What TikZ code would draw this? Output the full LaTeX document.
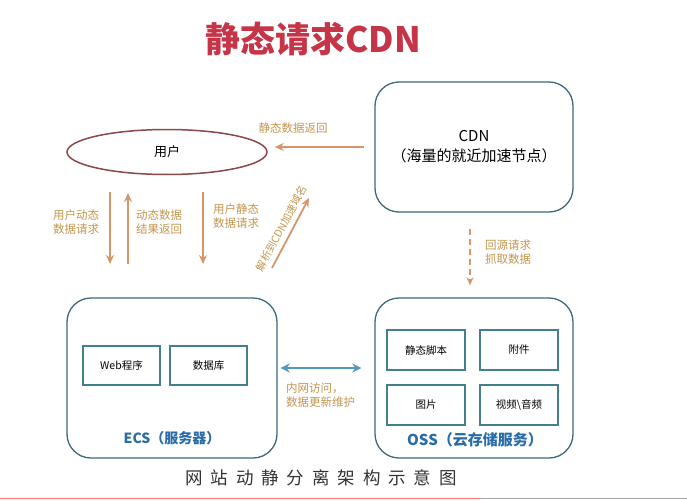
\documentclass[tikz,border=0pt]{standalone}
\usepackage{fontspec}
\setmainfont{Noto Sans CJK SC}
\usepackage{tikz}
\usetikzlibrary{arrows.meta, shapes.geometric}

\definecolor{titolo}{RGB}{198,52,72}
\definecolor{arancio}{RGB}{214,150,108}
\definecolor{oro}{RGB}{196,150,80}
\definecolor{bordo}{RGB}{62,104,124}
\definecolor{cellac}{RGB}{66,128,140}
\definecolor{blu}{RGB}{40,108,168}
\definecolor{azzurro}{RGB}{84,152,192}
\definecolor{ellc}{RGB}{140,72,72}

\begin{document}
\begin{tikzpicture}[x=1pt,y=-1pt,
    freccia/.style={-{Stealth[length=9pt,width=8pt]},line width=1.8pt,draw=arancio},
    etich/.style={font=\fontsize{11.5}{13.5}\selectfont,text=oro,align=center,inner sep=1pt},
    scatola/.style={draw=bordo,line width=1.3pt,rounded corners=24pt,minimum width=198pt},
    cella/.style={draw=cellac,line width=1.1pt,minimum width=78pt,minimum height=40pt,
        font=\fontsize{10.5}{12}\selectfont}]
    % sfondo
    \useasboundingbox (0,0) rectangle (687,500);
    \fill[white] (0,0) rectangle (687,500);

    % titolo
    \node[text=titolo,font=\fontsize{35}{38}\selectfont\bfseries] (title) at (313,39) {静态请求CDN};

    % utente
    \node[ellipse,draw=ellc,line width=1.5pt,minimum width=200pt,minimum height=45pt,
        font=\fontsize{13}{15}\selectfont] (user) at (167,152) {用户};

    % cdn
    \node[scatola,minimum height=130pt,align=center,font=\fontsize{15}{20}\selectfont] (cdn) at (474,147)
        {CDN\\（海量的就近加速节点）};

    % ecs
    \node[scatola,minimum width=210pt,minimum height=160pt] (ecs) at (172,378) {};
    \node[cella,minimum width=77pt,minimum height=39pt] (web) at (121.5,365.5) {Web程序};
    \node[cella,minimum width=77pt,minimum height=39pt] (db) at (208.5,365.5) {数据库};
    \node[text=blu,font=\fontsize{14}{16}\selectfont\bfseries] (ecslab) at (172,438) {ECS（服务器）};

    % oss
    \node[scatola,minimum height=160pt] (oss) at (474,378) {};
    \node[cella] (script) at (426,350) {静态脚本};
    \node[cella] (attach) at (519,350) {附件};
    \node[cella] (pic) at (426,405) {图片};
    \node[cella] (video) at (519,405) {视频\textbackslash 音频};
    \node[text=blu,font=\fontsize{15}{17}\selectfont\bfseries] (osslab) at (475,440) {OSS（云存储服务）};

    % ritorno statico
    \draw[freccia,shorten <=10pt,shorten >=7pt] (cdn.west) -- (user.east |- cdn.west);
    \node[etich] (lret) at (293,128) {静态数据返回};

    % richieste dinamiche
    \coordinate (a1) at (110,192);
    \coordinate (a2) at (110,264);
    \coordinate (b1) at (128,264);
    \coordinate (b2) at (128,193);
    \coordinate (c1) at (203,192);
    \coordinate (c2) at (203,264);
    \draw[freccia] (a1) -- (a2);
    \draw[freccia] (b1) -- (b2);
    \draw[freccia] (c1) -- (c2);
    \node[etich] (ldyn) at (76,222) {用户动态\\数据请求};
    \node[etich] (lres) at (159,222) {动态数据\\结果返回};
    \node[etich] (lsta) at (236,216) {用户静态\\数据请求};

    % dominio cdn
    \coordinate (s1) at (272,268);
    \coordinate (s2) at (309,198);
    \draw[freccia] (s1) -- (s2);
    \path (s1) -- (s2) node[midway,sloped,above=4pt,etich,font=\fontsize{10.5}{12}\selectfont] (ldom) {解析到CDN加速域名};

    % ritorno all'origine
    \draw[-{Stealth[length=8pt,width=7pt]},line width=1.6pt,draw=arancio,dash pattern=on 6pt off 4pt,
        shorten <=16pt,shorten >=12pt] ([xshift=-4pt]cdn.south) -- ([xshift=-4pt]oss.north);
    \node[etich] (lori) at (508,252) {回源请求\\抓取数据};

    % rete interna
    \draw[{Stealth[length=9pt,width=9pt]}-{Stealth[length=9pt,width=9pt]},line width=2.2pt,draw=azzurro,
        shorten <=3pt,shorten >=13pt] ([yshift=10pt]ecs.east) -- ([yshift=10pt]oss.west);
    \node[etich,align=left,anchor=west] (lnet) at (285,395) {内网访问，\\数据更新维护};

    % didascalia
    \node[text=black!80,font=\fontsize{17.5}{19}\selectfont\addfontfeature{LetterSpace=45}] (cap) at (321,478)
        {网站动静分离架构示意图};

    % riga in basso
    \draw[line width=1.5pt,draw=red!55] (0,498.5) -- (480,498.5);
    \draw[line width=1.5pt,draw=black!35] (480,498.5) -- (687,498.5);
\end{tikzpicture}
\end{document}
